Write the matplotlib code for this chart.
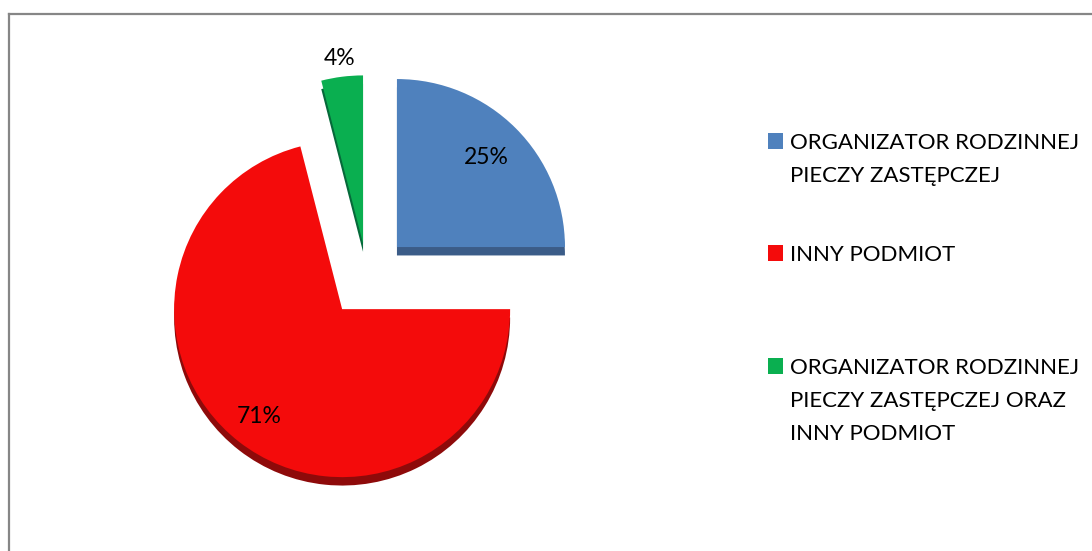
import numpy as np
import matplotlib
matplotlib.use("Agg")
import matplotlib.pyplot as plt
from matplotlib.lines import Line2D
from matplotlib.patches import Rectangle

# data
labels = ["ORGANIZATOR RODZINNEJ\nPIECZY ZASTĘPCZEJ",
          "INNY PODMIOT",
          "ORGANIZATOR RODZINNEJ\nPIECZY ZASTĘPCZEJ ORAZ\nINNY PODMIOT"]
values = [25, 71, 4]
colors = ["#4F81BD", "#F40B0B", "#0AAF50"]
side_colors = ["#3B5C88", "#8E0A0A", "#06693A"]

# layout (pixels)
W, H = 1092, 551
R = 168.0
cx, cy = 367.25, 276.75          # pie centre, screen coords
explode = [0.25, 0.244, 0.2]
pct_dist = [0.75, 0.81, 1.11]
legend_base = [149, 261, 374]    # first-line baselines
line_step = 33
FONT = "Lato"
FS = 16

fig = plt.figure(figsize=(W / 100, H / 100), dpi=100)
fig.patch.set_facecolor("white")

box = 2.5 * R
ax = fig.add_axes([(cx - box / 2) / W, (H - cy - box / 2) / H, box / W, box / H])

# darker copy underneath to fake the 3D side
ax.pie(values, colors=side_colors, explode=explode, startangle=90,
       counterclock=False, center=(0, -0.05),
       wedgeprops={"linewidth": 0, "zorder": 1})
wedges, _ = ax.pie(values, colors=colors, explode=explode, startangle=90,
                   counterclock=False,
                   wedgeprops={"linewidth": 0, "zorder": 2})

for w, v, d in zip(wedges, values, pct_dist):
    tm = np.deg2rad((w.theta1 + w.theta2) / 2)
    x0, y0 = w.center
    ax.text(x0 + d * np.cos(tm), y0 + d * np.sin(tm), f"{v}%",
            ha="center", va="center", fontsize=FS + 0.5, family=FONT,
            color="black", zorder=5)

ax.set_xlim(-1.25, 1.25)
ax.set_ylim(-1.25, 1.25)
ax.set_aspect("equal")
ax.axis("off")
for p in ax.patches:
    p.set_clip_on(False)

# legend drawn by hand so the square sits on the first line
for lab, c, yb in zip(labels, colors, legend_base):
    fig.patches.append(Rectangle((768 / W, (H - yb) / H), 15 / W, 16 / H,
                                 transform=fig.transFigure, facecolor=c,
                                 edgecolor="none"))
    for i, line in enumerate(lab.split("\n")):
        fig.text(790 / W, (H - yb - i * line_step) / H, line, ha="left",
                 va="baseline", fontsize=FS, family=FONT, color="black")

# chart border (only top and left are inside the picture)
fig.add_artist(Line2D([8.5 / W, 1.0], [(H - 13.5) / H] * 2,
                      transform=fig.transFigure, color="#868686", lw=1.6))
fig.add_artist(Line2D([8.5 / W] * 2, [0.0, (H - 13.5) / H],
                      transform=fig.transFigure, color="#868686", lw=1.6))

fig.savefig("out.png", dpi=100, facecolor="white")
